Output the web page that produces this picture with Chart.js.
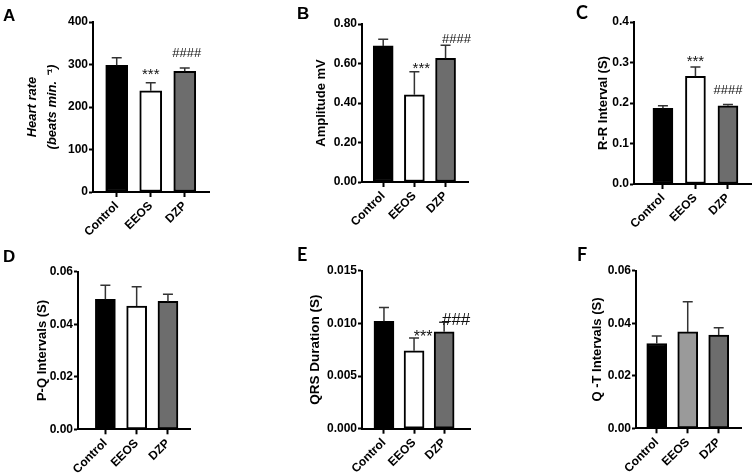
<!DOCTYPE html>
<html><head><meta charset="utf-8">
<script src="https://cdn.jsdelivr.net/npm/chart.js@4/dist/chart.umd.min.js"></script>
<style>
html,body{margin:0;padding:0;background:#fff;}
#wrap{position:relative;width:752px;height:476px;overflow:hidden;background:#fff;}
canvas{position:absolute;}
.lbl{position:absolute;font-family:"Liberation Sans",Arial,sans-serif;font-weight:bold;font-size:17px;line-height:1;color:#000;}
.lbl.c{font-family:Lato,"Liberation Sans",sans-serif;font-size:18px;}
</style></head><body>
<div id="wrap">
<canvas id="cA" width="250" height="236" style="left:0;top:0"></canvas>
<canvas id="cB" width="250" height="236" style="left:250px;top:0"></canvas>
<canvas id="cC" width="252" height="236" style="left:500px;top:0"></canvas>
<canvas id="cD" width="250" height="240" style="left:0;top:236px"></canvas>
<canvas id="cE" width="250" height="240" style="left:250px;top:236px"></canvas>
<canvas id="cF" width="252" height="240" style="left:500px;top:236px"></canvas>
<div class="lbl" style="left:3px;top:7px">A</div>
<div class="lbl" style="left:297px;top:5px">B</div>
<div class="lbl c" style="left:576px;top:3px">C</div>
<div class="lbl" style="left:3px;top:248px">D</div>
<div class="lbl c" style="left:297px;top:245px">E</div>
<div class="lbl c" style="left:577px;top:245px">F</div>
</div>
<script>
// ---- data ----
const categories = ['Control', 'EEOS', 'DZP'];

const heartRateMean = [298, 238, 284];
const heartRateSem = [18, 19, 8];
const heartRateSig = ['', '***', '####'];
const heartRateTicks = ['0', '100', '200', '300', '400'];

const amplitudeMean = [0.689, 0.442, 0.626];
const amplitudeSem = [0.034, 0.116, 0.067];
const amplitudeSig = ['', '***', '####'];
const amplitudeTicks = ['0.00', '0.20', '0.40', '0.60', '0.80'];

const rrMean = [0.187, 0.266, 0.193];
const rrSem = [0.006, 0.023, 0.003];
const rrSig = ['', '***', '####'];
const rrTicks = ['0.0', '0.1', '0.2', '0.3', '0.4'];

const pqMean = [0.0495, 0.0469, 0.0487];
const pqSem = [0.0053, 0.0074, 0.0027];
const pqSig = ['', '', ''];
const pqTicks = ['0.00', '0.02', '0.04', '0.06'];

const qrsMean = [0.0102, 0.0074, 0.0092];
const qrsSem = [0.0013, 0.0012, 0.0009];
const qrsSig = ['', '***', '###'];
const qrsTicks = ['0.000', '0.005', '0.010', '0.015'];

const qtMean = [0.0323, 0.0367, 0.0355];
const qtSem = [0.0028, 0.0115, 0.0028];
const qtSig = ['', '', ''];
const qtTicks = ['0.00', '0.02', '0.04', '0.06'];

// ---- styles / layout ----
const FONT = '"Liberation Sans", Arial, sans-serif';
const BLACK = '#000000', WHITE = '#ffffff', DARK = '#6d6d6d', LIGHT = '#9a9a9a';

const styleA = {pad:{top:22,right:41,bottom:0,left:0}, yW:93, xH:44, xStart:-0.697, xRange:3.41, barW:22, titlePad:22.75, titleLH:1.5,
  titleFont:{family:FONT,size:13,weight:'bold',style:'italic'}, colors:[BLACK,WHITE,DARK],
  sigFont:[null,15,13], sigDx:[0,0,2], sigDy:[0,-4.1,-10.9]};
const styleB = {pad:{top:24,right:32,bottom:0,left:0}, yW:112, xH:54, xStart:-0.68, xRange:3.40, barW:20, titlePad:63.9, titleLH:1.2,
  titleFont:{family:FONT,size:13,weight:'bold'}, colors:[BLACK,WHITE,DARK],
  sigFont:[null,15,13], sigDx:[0,7,11], sigDy:[0,1.6,-2.4]};
const styleC = {pad:{top:22,right:0,bottom:0,left:0}, yW:134, xH:52, xStart:-0.89, xRange:3.63, barW:20, titlePad:95.2, titleLH:1.2,
  titleFont:{family:FONT,size:13,weight:'bold'}, colors:[BLACK,WHITE,DARK],
  sigFont:[null,15,13], sigDx:[0,0,0], sigDy:[0,-1.4,-10.4]};
const styleD = {pad:{top:35.7,right:60,bottom:0,left:0}, yW:78, xH:46.7, xStart:-0.875, xRange:3.58, barW:20, titlePad:34.2, titleLH:1.2,
  titleFont:{family:FONT,size:13,weight:'bold'}, colors:[BLACK,WHITE,DARK],
  sigFont:[null,15,13], sigDx:[0,0,0], sigDy:[0,0,0]};
const styleE = {pad:{top:34.7,right:30,bottom:0,left:0}, yW:112, xH:47.3, xStart:-0.73, xRange:3.59, barW:20, titlePad:57, titleLH:1.2,
  titleFont:{family:FONT,size:13.5,weight:'bold'}, colors:[BLACK,WHITE,DARK],
  sigFont:[null,16,17], sigDx:[0,9,12], sigDy:[0,3.5,2.6]};
const styleF = {pad:{top:34.7,right:11,bottom:0,left:0}, yW:136, xH:47.7, xStart:-0.67, xRange:3.39, barW:20, titlePad:89.2, titleLH:1.2,
  titleFont:{family:FONT,size:13,weight:'bold'}, colors:[BLACK,LIGHT,DARK],
  sigFont:[null,15,13], sigDx:[0,0,0], sigDy:[0,0,0]};

function makeErrPlugin(mean, sem, sig, S) {
  return {
    id: 'errbars',
    afterDatasetsDraw(chart) {
      const ctx = chart.ctx, xs = chart.scales.x, ys = chart.scales.y;
      ctx.save();
      ctx.strokeStyle = '#333';
      ctx.lineWidth = 1.5;
      for (let i = 0; i < mean.length; i++) {
        const x = xs.getPixelForValue(i);
        const yb = ys.getPixelForValue(mean[i]);
        const yt = ys.getPixelForValue(mean[i] + sem[i]);
        ctx.beginPath();
        ctx.moveTo(x, yb); ctx.lineTo(x, yt);
        ctx.moveTo(x - 5, yt); ctx.lineTo(x + 5, yt);
        ctx.stroke();
        if (sig[i]) {
          ctx.fillStyle = '#111';
          ctx.font = S.sigFont[i] + 'px ' + FONT;
          ctx.textAlign = 'center';
          ctx.textBaseline = 'alphabetic';
          ctx.fillText(sig[i], x + S.sigDx[i], yt + S.sigDy[i]);
        }
      }
      ctx.restore();
    }
  };
}

function panel(id, mean, sem, sig, ticks, title, S) {
  const vals = ticks.map(parseFloat);
  const max = vals[vals.length - 1];
  const step = vals[1] - vals[0];
  new Chart(document.getElementById(id), {
    type: 'bar',
    data: {labels: categories, datasets: [{data: mean, backgroundColor: S.colors, borderColor: '#000', borderWidth: 2, borderSkipped: false, barThickness: S.barW}]},
    options: {
      responsive: false, animation: false, devicePixelRatio: 1,
      layout: {padding: S.pad},
      plugins: {legend: {display: false}, tooltip: {enabled: false}},
      scales: {
        x: {
          type: 'category', offset: true,
          grid: {display: true, drawOnChartArea: false, drawTicks: true, offset: false, tickLength: 5, tickWidth: 2, tickColor: '#000'},
          border: {display: true, color: '#000', width: 2},
          ticks: {color: '#000', font: {family: FONT, size: 12, weight: 'bold'}, minRotation: 45, maxRotation: 45, autoSkip: false, padding: 2},
          afterBuildTicks: (s) => { s._startValue = S.xStart; s._valueRange = S.xRange; },
          afterFit: (s) => { s.height = S.xH; }
        },
        y: {
          min: 0, max: max,
          ticks: {stepSize: step, color: '#000', font: {family: FONT, size: 12, weight: 'bold'}, padding: 1,
            callback: (v) => { const k = vals.findIndex(t => Math.abs(t - v) < step / 100); return k >= 0 ? ticks[k] : ''; }},
          grid: {display: true, drawOnChartArea: false, drawTicks: true, tickLength: 4, tickWidth: 2, tickColor: '#000'},
          border: {display: true, color: '#000', width: 2},
          title: {display: true, text: title, color: '#000', font: Object.assign({lineHeight: S.titleLH}, S.titleFont), padding: {top: S.titlePad, bottom: 0}},
          afterFit: (s) => { s.width = S.yW; }
        }
      }
    },
    plugins: [makeErrPlugin(mean, sem, sig, S)]
  });
}

panel('cA', heartRateMean, heartRateSem, heartRateSig, heartRateTicks, ['Heart rate', '(beats min. \u207B\u00B9)'], styleA);
panel('cB', amplitudeMean, amplitudeSem, amplitudeSig, amplitudeTicks, 'Amplitude mV', styleB);
panel('cC', rrMean, rrSem, rrSig, rrTicks, 'R-R Interval (S)', styleC);
panel('cD', pqMean, pqSem, pqSig, pqTicks, 'P-Q Intervals (S)', styleD);
panel('cE', qrsMean, qrsSem, qrsSig, qrsTicks, 'QRS Duration (S)', styleE);
panel('cF', qtMean, qtSem, qtSig, qtTicks, 'Q -T Intervals (S)', styleF);
</script>
</body></html>
